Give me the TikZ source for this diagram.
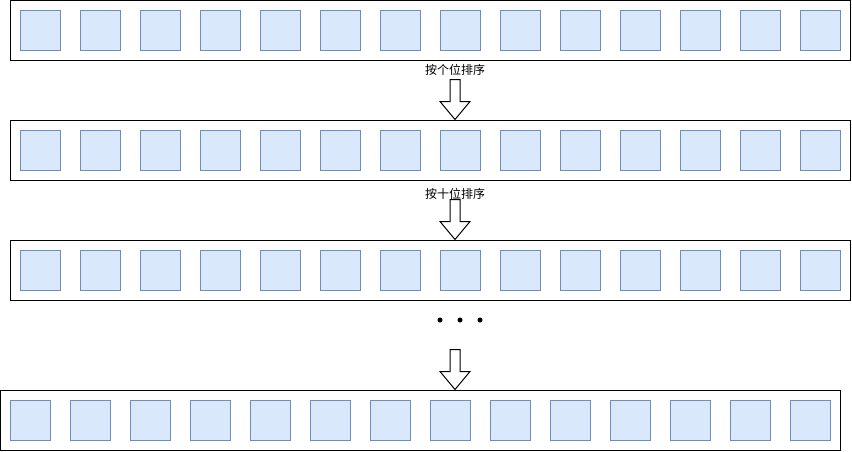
\documentclass[tikz,border=0pt]{standalone}
\usepackage{fontspec}
\newfontfamily\cjk{Noto Sans CJK SC}
\definecolor{cajaborde}{HTML}{6C8EBF}
\definecolor{cajafondo}{HTML}{DAE8FC}
\tikzset{
    caja/.style={draw=cajaborde, fill=cajafondo, line width=1pt, minimum size=40pt, inner sep=0pt},
    marco/.style={draw=black, line width=1pt, minimum width=840pt, minimum height=60pt, inner sep=0pt},
    flecha/.style={draw=black, fill=white, line width=1pt, line join=miter},
    etiqueta/.style={font=\cjk\fontsize{12}{14}\selectfont, inner sep=0pt}
}
\begin{document}
\begin{tikzpicture}[x=1pt, y=-1pt]
    \useasboundingbox (0,0) rectangle (852,451);

    % Filas con sus casillas
    \foreach \f/\xo/\yo in {1/10/0, 2/10/120, 3/10/240, 4/0/390} {
        \node[marco] (fila\f) at ({\xo+420},{\yo+30}) {};
        \foreach \i in {0,...,13}
            \node[caja] (c\f-\i) at ({\xo+30+60*\i},{\yo+30}) {};
    }

    % Flechas entre filas
    \coordinate (punta1) at (fila2.north -| 455,0);
    \coordinate (punta2) at (fila3.north -| 455,0);
    \coordinate (punta3) at (fila4.north -| 455,0);
    \foreach \n in {1,2,3}
        \draw[flecha] (punta\n) -- ++(15,-18) -- ++(-10,0) -- ++(0,-22)
            -- ++(-10,0) -- ++(0,22) -- ++(-10,0) -- cycle;

    % Etiquetas
    \node[etiqueta] (orden1) at (455,70) {按个位排序};
    \node[etiqueta] (orden2) at (455,194) {按十位排序};

    % Puntos suspensivos
    \foreach \x in {440,460,480}
        \fill (\x,320) circle (2.5pt);
\end{tikzpicture}
\end{document}
